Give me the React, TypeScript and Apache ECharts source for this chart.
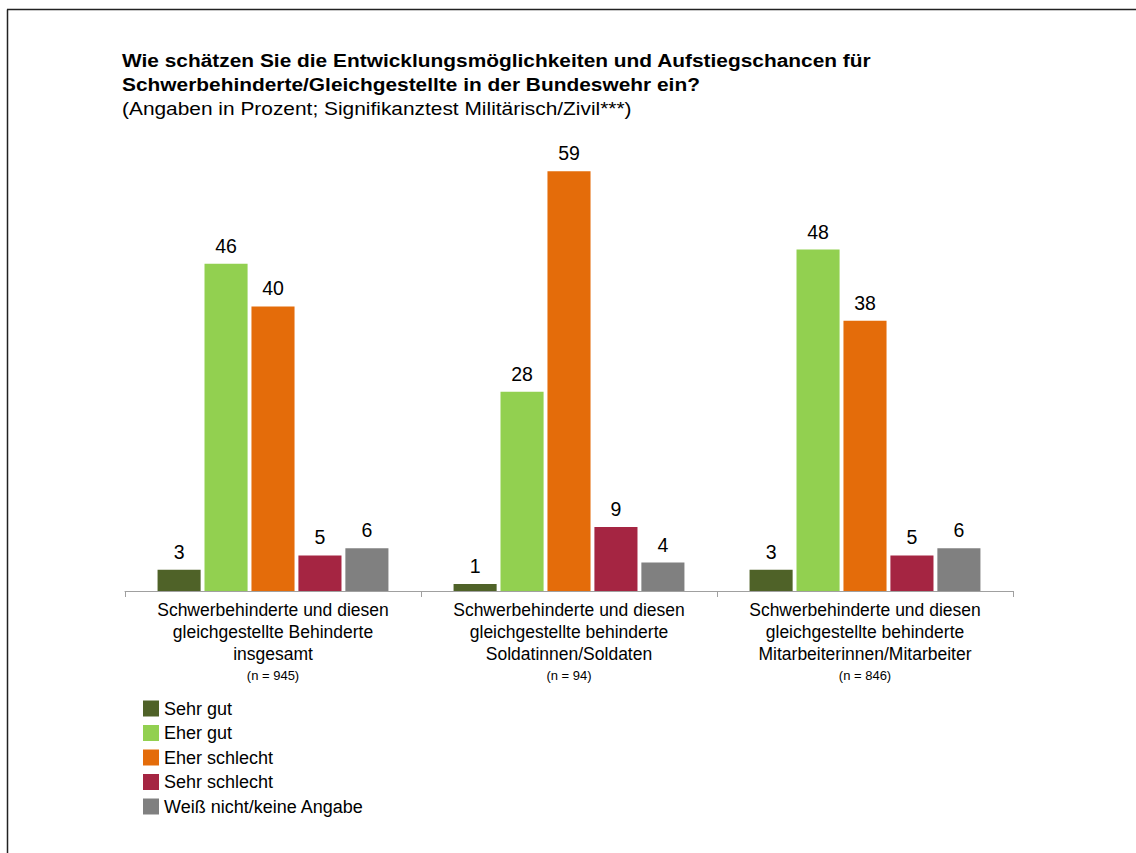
import React, { useEffect, useRef } from "react";
import * as echarts from "echarts";

const categories = [
  "Schwerbehinderte und diesen\ngleichgestellte Behinderte\ninsgesamt",
  "Schwerbehinderte und diesen\ngleichgestellte behinderte\nSoldatinnen/Soldaten",
  "Schwerbehinderte und diesen\ngleichgestellte behinderte\nMitarbeiterinnen/Mitarbeiter",
];
const sampleSizes = ["(n = 945)", "(n = 94)", "(n = 846)"];
const seriesNames = ["Sehr gut", "Eher gut", "Eher schlecht", "Sehr schlecht", "Weiß nicht/keine Angabe"];
const sehrGut = [3, 1, 3];
const eherGut = [46, 28, 48];
const eherSchlecht = [40, 59, 38];
const sehrSchlecht = [5, 9, 5];
const weissNicht = [6, 4, 6];
const colors = ["#4F6228", "#92D050", "#E46C0A", "#A52542", "#808080"];

const titleLine1 = "Wie schätzen Sie die Entwicklungsmöglichkeiten und Aufstiegschancen für";
const titleLine2 = "Schwerbehinderte/Gleichgestellte in der Bundeswehr ein?";
const subtitle = "(Angaben in Prozent; Signifikanztest Militärisch/Zivil***)";

export default function App() {
  const ref = useRef<HTMLDivElement>(null);
  useEffect(() => {
    if (!ref.current) return;
    const chart = echarts.init(ref.current, null, { renderer: "svg" });
    const allValues = [sehrGut, eherGut, eherSchlecht, sehrSchlecht, weissNicht];
    const font = "'Liberation Sans', Arial, sans-serif";
    chart.setOption({
      animation: false,
      backgroundColor: "#ffffff",
      textStyle: { fontFamily: font },
      graphic: [
        { type: "line", shape: { x1: 7.5, y1: 9.5, x2: 7.5, y2: 853 }, style: { stroke: "#222", lineWidth: 1.5 } },
        { type: "line", shape: { x1: 7, y1: 9.5, x2: 1136, y2: 9.5 }, style: { stroke: "#222", lineWidth: 1.5 } },
        {
          type: "text", x: 122, y: 48, scaleX: 1.13,
          style: {
            text: titleLine1 + "\n" + titleLine2, font: "bold 18.5px " + font, fill: "#000",
            lineHeight: 24, verticalAlign: "top",
          },
        },
        {
          type: "text", x: 122, y: 96, scaleX: 1.13,
          style: { text: subtitle, font: "18.5px " + font, fill: "#000", lineHeight: 24, verticalAlign: "top" },
        },
      ],
      legend: {
        orient: "vertical",
        left: 138,
        top: 694.5,
        itemWidth: 16,
        itemHeight: 16,
        itemGap: 6.5,
        icon: "rect",
        textStyle: { fontSize: 18, lineHeight: 18, color: "#000", fontFamily: font },
        data: seriesNames,
      },
      grid: { left: 125, right: 123, top: 93, bottom: 262 },
      xAxis: {
        type: "category",
        data: categories,
        axisLine: { lineStyle: { color: "#A0A0A0" } },
        axisTick: { show: true, length: 6, lineStyle: { color: "#A0A0A0" } },
        axisLabel: {
          interval: 0,
          margin: 8,
          formatter: (v: string, i: number) =>
            v.split("\n").map((l) => "{a|" + l + "}").join("\n") + "\n{n|" + sampleSizes[i] + "}",
          rich: {
            a: { fontSize: 17.5, lineHeight: 22, color: "#000", fontFamily: font },
            n: { fontSize: 13, lineHeight: 20, color: "#000", fontFamily: font },
          },
        },
      },
      yAxis: { type: "value", min: 0, max: 70, show: false, splitLine: { show: false } },
      series: seriesNames.map((name, i) => ({
        name,
        type: "bar",
        data: allValues[i],
        barGap: "9%",
        barCategoryGap: "22%",
        itemStyle: { color: colors[i] },
        label: { show: true, position: "top", distance: 8, fontSize: 19.5, color: "#000", fontFamily: font },
      })),
    });
    return () => chart.dispose();
  }, []);
  return <div ref={ref} style={{ position: "fixed", left: 0, top: 0, width: 1136, height: 853 }} />;
}
